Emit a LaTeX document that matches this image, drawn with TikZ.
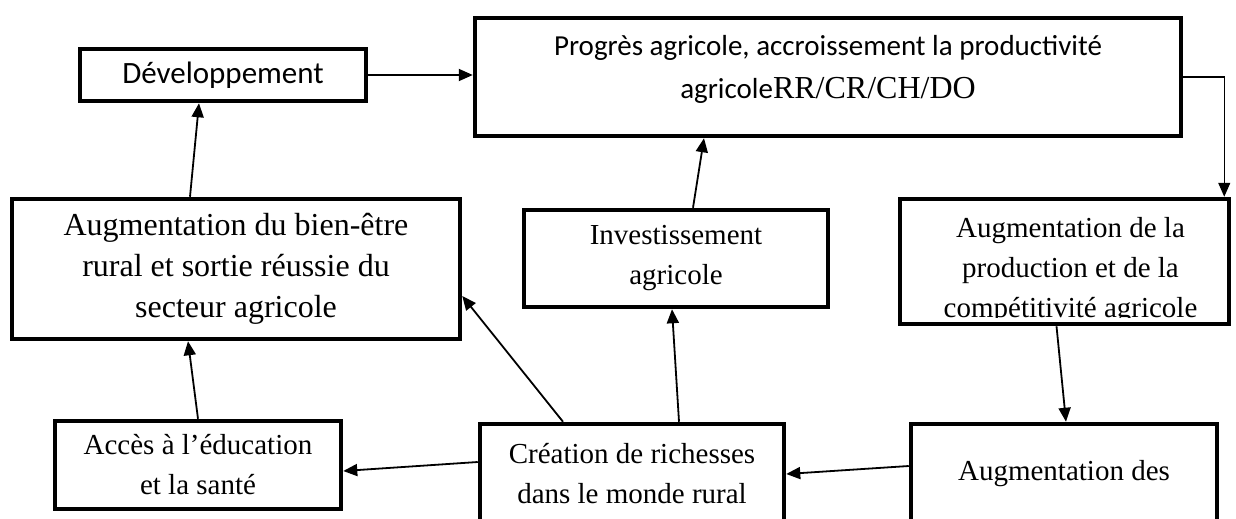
\documentclass[tikz,border=0pt]{standalone}
\usepackage{fontspec}
\setmainfont{Liberation Serif}
\newfontfamily\calibri{Carlito}
\usetikzlibrary{arrows.meta, positioning, calc}

\begin{document}
\begin{tikzpicture}[x=1pt, y=-1pt,
    bloc/.style={draw, line width=4.5pt, inner sep=0pt, align=center,
        font=\fontsize{29}{40}\selectfont},
    fleche/.style={line width=1.8pt, -{Triangle[length=14pt, width=12pt]}}]
    \useasboundingbox (0,0) rectangle (1236,519);
    \clip (0,0) rectangle (1236,519);

    % Boxes
    \node[bloc, minimum width=286pt, minimum height=52pt,
        font=\calibri\fontsize{31}{40}\selectfont] (dev) at (223,75) {Développement};
    \node[bloc, minimum width=706pt, minimum height=118pt] (prog) at (828,77) {};
    \node[align=center, font=\calibri\fontsize{29}{43}\selectfont] (progtxt)
        at ([yshift=8pt]prog.center)
        {Progrès agricole, accroissement la productivité\\
         agricole{\rmfamily\fontsize{32}{43}\selectfont RR/CR/CH/DO}};

    \node[bloc, minimum width=448pt, minimum height=140pt,
        font=\fontsize{32}{41}\selectfont] (bien) at (236,269)
        {Augmentation du bien-être\\ rural et sortie réussie du\\ secteur agricole};
    \node[bloc, minimum width=304pt, minimum height=97pt] (invest) at (676,258.5)
        {Investissement\\ agricole};
    \node[bloc, minimum width=329pt, minimum height=125pt] (prod) at (1064.5,261.5) {};
    \begin{scope}
        \clip (prod.north west) rectangle ([yshift=9pt]prod.south east);
        \node[align=center, font=\fontsize{29}{40}\selectfont] (prodtxt)
            at ([xshift=6pt, yshift=-9pt]prod.center)
            {Augmentation de la\\ production et de la\\ compétitivité agricole};
    \end{scope}

    \node[bloc, minimum width=286pt, minimum height=88pt] (acces) at (198,465)
        {Accès à l’éducation\\ et la santé};
    \node[bloc, minimum width=304pt, minimum height=100pt] (creation) at (632,474)
        {Création de richesses\\ dans le monde rural};
    \node[bloc, minimum width=306pt, minimum height=100pt] (revenus) at (1064,474)
        {Augmentation des};

    % Arrows
    \draw[fleche] (dev.east) -- (dev.east -| prog.west);
    \draw[fleche, line width=1.2pt] (prog.east) -| ([xshift=-7pt]prod.north east);
    \draw[fleche] ([xshift=-46pt]bien.north) -- ([xshift=-24pt]dev.south);
    \draw[fleche] ([xshift=17pt]invest.north) -- ([xshift=-124pt]prog.south);
    \draw[fleche] ([xshift=47pt]creation.north) -- ([xshift=-4pt]invest.south);
    \draw[fleche] ([xshift=-69pt]creation.north) -- ([yshift=-27pt]bien.east);
    \draw[fleche] (acces.north) -- ([xshift=-48pt]bien.south);
    \draw[fleche] ([yshift=12pt]creation.west) -- ([yshift=-6pt]acces.east);
    \draw[fleche] ([yshift=8pt]revenus.west) -- (creation.east);
    \draw[fleche] ([xshift=-8pt]prod.south) -- ([xshift=2pt]revenus.north);
\end{tikzpicture}
\end{document}
